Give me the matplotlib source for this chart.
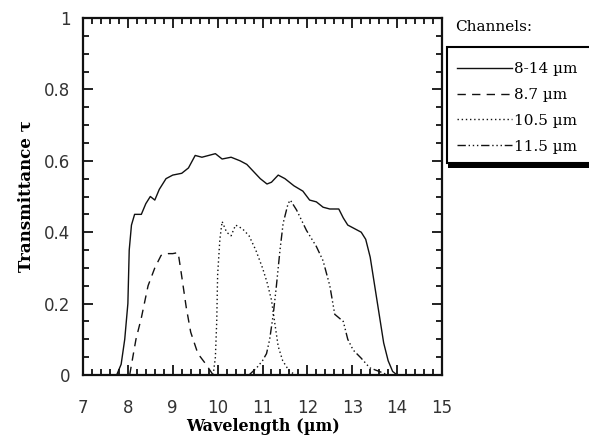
import matplotlib
matplotlib.use("Agg")
import matplotlib.pyplot as plt
from matplotlib.patches import Rectangle
from matplotlib.ticker import MultipleLocator

# datos
wl_814 = [7.75, 7.85, 7.93, 8.0, 8.03, 8.08, 8.15, 8.3, 8.4, 8.5, 8.6, 8.7, 8.85, 9.0, 9.2,
          9.35, 9.5, 9.65, 9.8, 9.95, 10.1, 10.3, 10.5, 10.65, 10.8, 10.95, 11.1, 11.2,
          11.35, 11.5, 11.7, 11.9, 12.05, 12.2, 12.35, 12.5, 12.7, 12.8, 12.9, 13.05,
          13.2, 13.3, 13.4, 13.5, 13.6, 13.7, 13.8, 13.9, 14.0]
tau_814 = [0.0, 0.03, 0.1, 0.2, 0.35, 0.42, 0.45, 0.45, 0.48, 0.50, 0.49, 0.52, 0.55, 0.56, 0.565,
           0.58, 0.615, 0.61, 0.615, 0.62, 0.605, 0.61, 0.60, 0.59, 0.57, 0.55, 0.535, 0.54,
           0.56, 0.55, 0.53, 0.515, 0.49, 0.485, 0.47, 0.465, 0.465, 0.44, 0.42, 0.41,
           0.40, 0.38, 0.33, 0.25, 0.17, 0.09, 0.04, 0.01, 0.0]

wl_87 = [8.04, 8.18, 8.3, 8.45, 8.6, 8.74, 8.9, 9.0, 9.12, 9.19, 9.3, 9.4, 9.56, 9.74, 9.9]
tau_87 = [0.0, 0.1, 0.16, 0.25, 0.30, 0.335, 0.34, 0.34, 0.343, 0.285, 0.19, 0.12, 0.06, 0.03, 0.0]

wl_105 = [9.9, 9.95, 9.98, 10.0, 10.05, 10.1, 10.2, 10.3, 10.4, 10.55, 10.7, 10.85, 11.0,
          11.1, 11.2, 11.28, 11.35, 11.45, 11.6, 11.75]
tau_105 = [0.0, 0.05, 0.15, 0.28, 0.38, 0.43, 0.40, 0.39, 0.42, 0.41, 0.39, 0.35, 0.30,
           0.26, 0.21, 0.14, 0.08, 0.04, 0.01, 0.0]

wl_115 = [10.7, 10.87, 11.0, 11.09, 11.16, 11.24, 11.31, 11.39, 11.46, 11.57, 11.62, 11.76,
          11.98, 12.2, 12.35, 12.5, 12.61, 12.8, 12.9, 13.02, 13.2, 13.39, 13.6, 13.8]
tau_115 = [0.0, 0.02, 0.04, 0.06, 0.10, 0.17, 0.25, 0.35, 0.425, 0.48, 0.49, 0.462,
           0.405, 0.36, 0.32, 0.25, 0.17, 0.15, 0.10, 0.07, 0.047, 0.02, 0.01, 0.0]

etiquetas = ["8-14 \u00b5m", "8.7 \u00b5m", "10.5 \u00b5m", "11.5 \u00b5m"]
x_ticks = [7, 8, 9, 10, 11, 12, 13, 14, 15]
y_ticks = [0, 0.2, 0.4, 0.6, 0.8, 1]
y_labels = ["0", "0.2", "0.4", "0.6", "0.8", "1"]

W, H = 589, 447
fig = plt.figure(figsize=(W / 100, H / 100), dpi=100)
ax = fig.add_axes([83 / W, 1 - 375 / H, (442 - 83) / W, (375 - 18) / H])

c = "#111111"
serif = "DejaVu Serif"
l1, = ax.plot(wl_814, tau_814, color=c, lw=1.0, linestyle="-")
l2, = ax.plot(wl_87, tau_87, color=c, lw=1.0, linestyle=(0, (6, 4.5)))
l3, = ax.plot(wl_105, tau_105, color=c, lw=1.0, linestyle=(0, (1, 2)))
l4, = ax.plot(wl_115, tau_115, color=c, lw=1.0, linestyle=(0, (6, 2, 1, 2, 1, 2, 1, 2)))

ax.set_xlim(7, 15)
ax.set_ylim(0, 1)
ax.set_xticks(x_ticks)
ax.set_yticks(y_ticks)
ax.set_yticklabels(y_labels)
ax.xaxis.set_minor_locator(MultipleLocator(0.2))
ax.yaxis.set_minor_locator(MultipleLocator(0.05))
ax.tick_params(which="both", direction="in", top=True, right=True, color=c, width=1.3)
ax.tick_params(which="major", length=7.5)
ax.tick_params(which="minor", length=4.5)
ax.tick_params(axis="x", which="major", pad=17, labelsize=12, labelcolor="#333333")
ax.tick_params(axis="y", which="major", pad=9, labelsize=12, labelcolor="#333333")
for s in ax.spines.values():
    s.set_linewidth(1.6)
    s.set_color(c)

ax.set_xlabel("Wavelength (\u00b5m)", family=serif, fontweight="bold",
              fontsize=11.5, labelpad=1)
ax.set_ylabel("Transmittance \u03c4", family=serif, fontweight="bold",
              fontsize=12, labelpad=7)

# caja de la leyenda con sombra negra abajo
fig.patches.append(Rectangle((448 / W, 1 - 168 / H), 200 / W, 121 / H,
                             transform=fig.transFigure, facecolor="black", edgecolor="none"))
fig.patches.append(Rectangle((447 / W, 1 - 163 / H), 200 / W, 116 / H,
                             transform=fig.transFigure, facecolor="white", edgecolor="black",
                             linewidth=1.5))
fig.text(455 / W, 1 - 27 / H, "Channels:", family=serif, fontsize=11,
         va="center", ha="left")

leg = fig.legend([l1, l2, l3, l4], etiquetas, loc="upper left",
                 bbox_to_anchor=(457 / W, 1 - 62 / H), frameon=False,
                 prop={"family": serif, "size": 11},
                 handlelength=3.6, handletextpad=0.15, labelspacing=0.78,
                 borderpad=0, borderaxespad=0)

fig.savefig("out.png", dpi=100)
